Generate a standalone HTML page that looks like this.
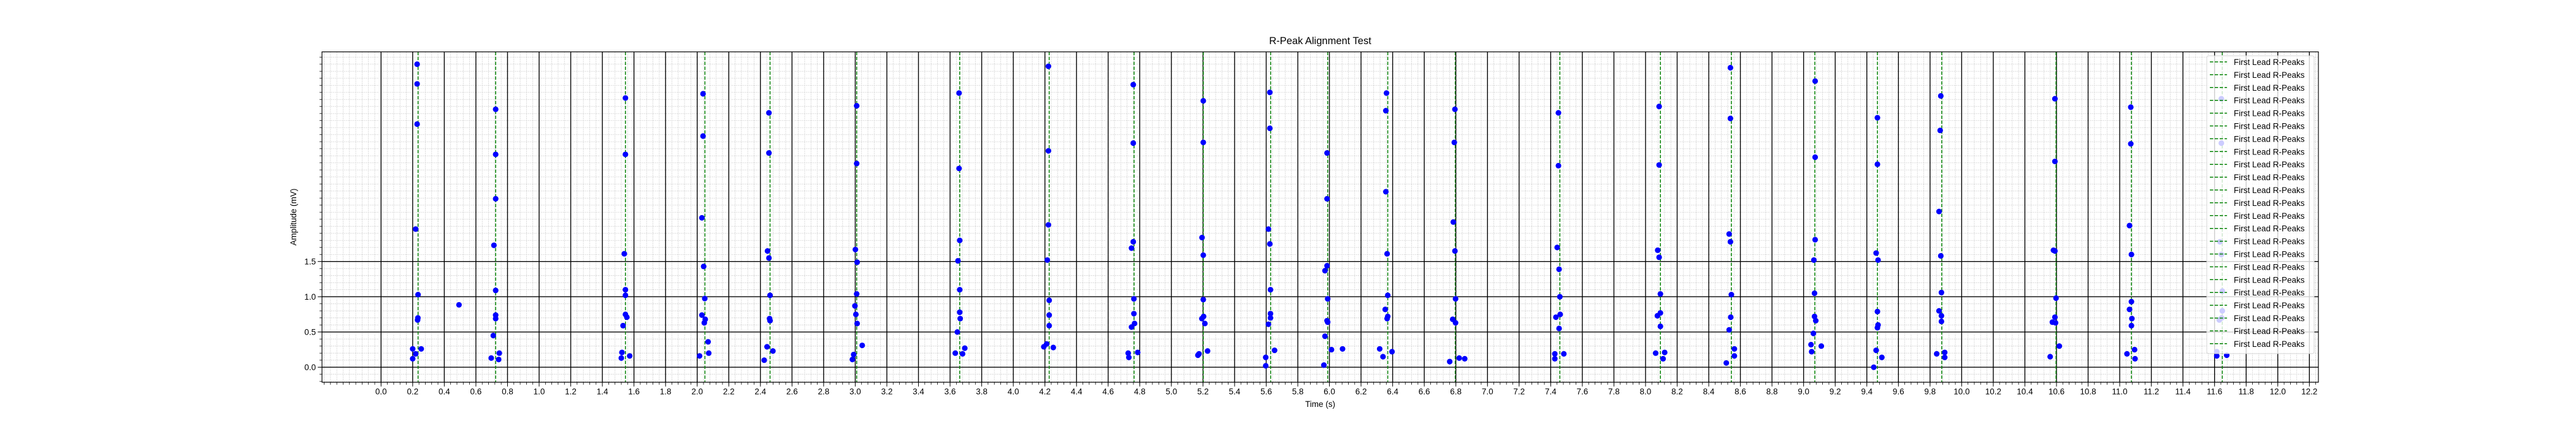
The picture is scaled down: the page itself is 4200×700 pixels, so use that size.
<!DOCTYPE html>
<html><head><meta charset="utf-8"><title>R-Peak Alignment Test</title>
<style>
html,body{margin:0;padding:0;background:#fff;}
svg{display:block;font-family:"Liberation Sans",sans-serif;}
</style></head>
<body>
<svg id="chart" width="4200" height="700" viewBox="0 0 4200 700" xmlns="http://www.w3.org/2000/svg"></svg>
<script>
const peakTimes = [0.234,0.725,1.546,2.049,2.461,3.009,3.661,4.227,4.764,5.202,5.628,5.989,6.369,6.796,7.458,8.094,8.543,9.071,9.467,9.874,10.597,11.074,11.649];
const dotTimes = [
0.228,0.228,0.228,0.219,0.234,0.233,0.231,0.200,0.254,0.219,0.200,0.493,
0.725,0.725,0.725,0.714,0.725,0.725,0.725,0.710,0.748,0.697,0.744,
1.546,1.546,1.539,1.546,1.546,1.546,1.555,1.531,1.524,1.573,1.520,
2.037,2.037,2.030,2.041,2.048,2.030,2.051,2.045,2.069,2.073,2.015,
2.454,2.454,2.445,2.454,2.461,2.458,2.461,2.442,2.479,2.424,
3.009,3.009,3.001,3.012,3.009,2.998,3.004,3.012,3.044,2.990,2.982,
3.657,3.657,3.661,3.650,3.661,3.661,3.664,3.646,3.693,3.633,3.679,
4.222,4.222,4.222,4.215,4.227,4.227,4.227,4.211,4.193,4.253,
4.759,4.759,4.759,4.748,4.763,4.763,4.767,4.748,4.787,4.727,4.731,
5.202,5.202,5.194,5.202,5.202,5.204,5.193,5.212,5.229,5.175,5.168,
5.623,5.623,5.614,5.623,5.627,5.627,5.627,5.614,5.653,5.597,5.597,
5.985,5.985,5.985,5.972,5.989,5.985,5.989,5.972,6.013,5.965,6.083,
6.361,6.357,6.357,6.365,6.369,6.353,6.369,6.365,6.318,6.396,6.339,
6.794,6.790,6.784,6.794,6.798,6.780,6.798,6.821,6.856,6.761,
7.449,7.449,7.441,7.453,7.458,7.460,7.433,7.453,7.483,7.426,7.426,
8.086,8.086,8.077,8.086,8.094,8.094,8.075,8.094,8.121,8.064,8.111,
8.537,8.537,8.529,8.537,8.543,8.539,8.529,8.562,8.562,8.511,
9.073,9.073,9.073,9.065,9.069,9.069,9.077,9.062,9.112,9.047,9.051,
9.467,9.467,9.459,9.471,9.467,9.471,9.467,9.459,9.495,9.444,
9.868,9.864,9.857,9.868,9.872,9.857,9.872,9.872,9.893,9.842,9.893,
10.590,10.590,10.581,10.590,10.597,10.590,10.574,10.594,10.618,10.560,
11.070,11.070,11.062,11.074,11.074,11.062,11.077,11.074,11.094,11.046,11.097,
11.643,11.643,11.634,11.643,11.649,11.649,11.645,11.630,11.614,11.614,11.677];
const dotValues = [
4.30,4.02,3.45,1.96,1.03,0.70,0.67,0.26,0.26,0.19,0.12,0.885,
3.66,3.02,2.39,1.73,1.09,0.74,0.69,0.45,0.20,0.13,0.11,
3.82,3.02,1.61,1.10,1.02,0.75,0.71,0.59,0.21,0.16,0.13,
3.88,3.28,2.12,1.43,0.975,0.74,0.68,0.63,0.36,0.20,0.16,
3.61,3.04,1.65,1.55,1.02,0.69,0.66,0.29,0.23,0.10,
3.71,2.89,1.67,1.49,1.04,0.87,0.75,0.62,0.31,0.18,0.11,
3.89,2.82,1.80,1.51,1.10,0.78,0.69,0.50,0.27,0.20,0.19,
4.27,3.07,2.02,1.52,0.95,0.74,0.59,0.33,0.29,0.28,
4.01,3.18,1.78,1.69,0.97,0.76,0.62,0.57,0.21,0.20,0.14,
3.78,3.19,1.84,1.59,0.96,0.72,0.69,0.62,0.23,0.19,0.17,
3.90,3.39,1.96,1.75,1.10,0.76,0.70,0.61,0.24,0.14,0.02,
3.04,2.39,1.44,1.37,0.97,0.66,0.64,0.44,0.25,0.03,0.26,
3.89,3.64,2.49,1.61,1.02,0.82,0.72,0.69,0.26,0.22,0.15,
3.66,3.19,2.06,1.65,0.97,0.68,0.63,0.13,0.12,0.08,
3.61,2.86,1.70,1.39,1.00,0.75,0.71,0.55,0.19,0.19,0.12,
3.70,2.87,1.66,1.56,1.04,0.77,0.73,0.58,0.21,0.20,0.12,
4.25,3.53,1.89,1.78,1.03,0.71,0.53,0.26,0.16,0.06,
4.06,2.98,1.81,1.52,1.05,0.72,0.66,0.48,0.30,0.32,0.22,
3.54,2.88,1.62,1.52,0.79,0.60,0.56,0.24,0.14,0.00,
3.85,3.36,2.21,1.58,1.06,0.80,0.73,0.65,0.21,0.19,0.14,
3.81,2.92,1.66,1.65,0.98,0.71,0.64,0.63,0.30,0.15,
3.69,3.17,2.01,1.60,0.93,0.82,0.69,0.59,0.25,0.19,0.12,
3.81,3.18,1.78,1.60,1.08,0.80,0.70,0.67,0.22,0.16,0.17];
const xTickLabels = ["0.0","0.2","0.4","0.6","0.8","1.0","1.2","1.4","1.6","1.8","2.0","2.2","2.4","2.6","2.8","3.0","3.2","3.4","3.6","3.8","4.0","4.2","4.4","4.6","4.8","5.0","5.2","5.4","5.6","5.8","6.0","6.2","6.4","6.6","6.8","7.0","7.2","7.4","7.6","7.8","8.0","8.2","8.4","8.6","8.8","9.0","9.2","9.4","9.6","9.8","10.0","10.2","10.4","10.6","10.8","11.0","11.2","11.4","11.6","11.8","12.0","12.2"];
const yTickLabels = ["0.0","0.5","1.0","1.5"];
const legendLabels = Array(23).fill("First Lead R-Peaks");

const L=525,R=3780,T=84.6,B=623.7;
const xMin=-0.3737, xMax=12.257, yMin=-0.213, yMax=4.475;
function X(t){return L+(t-xMin)/(xMax-xMin)*(R-L);}
function Y(v){return B-(v-yMin)/(yMax-yMin)*(B-T);}
const svg=document.getElementById('chart');
const NS='http://www.w3.org/2000/svg';
function mk(tag,attrs,parent){const e=document.createElementNS(NS,tag);for(const k in attrs)e.setAttribute(k,attrs[k]);(parent||svg).appendChild(e);return e;}

const gMinor=mk('g',{});


for(let i=Math.ceil(xMin/0.04);i*0.04<=xMax;i++){const x=X(i*0.04);
 mk('line',{x1:x,x2:x,y1:T,y2:B,stroke:'#c4c4c4','stroke-width':0.8,'stroke-dasharray':'1.5,1.5'},gMinor);
 mk('line',{x1:x,x2:x,y1:B,y2:B+4,stroke:'#000','stroke-width':0.8},gMinor);}
for(let i=Math.ceil(yMin/0.1);i*0.1<=yMax;i++){const y=Y(i*0.1);
 mk('line',{x1:L,x2:R,y1:y,y2:y,stroke:'#c4c4c4','stroke-width':0.8,'stroke-dasharray':'1.5,1.5'},gMinor);
 mk('line',{x1:L-4,x2:L,y1:y,y2:y,stroke:'#000','stroke-width':0.8},gMinor);}

const gMajor=mk('g',{});


xTickLabels.forEach(lab=>{const x=X(parseFloat(lab));
 mk('line',{x1:x,x2:x,y1:T,y2:B,stroke:'#000','stroke-width':1.4},gMajor);
 mk('line',{x1:x,x2:x,y1:B,y2:B+7,stroke:'#000','stroke-width':1},gMajor);
 const t=mk('text',{x:x,y:B+20,'font-size':13.5,'text-anchor':'middle',fill:'#000'},gMajor);t.textContent=lab;
 
 });
yTickLabels.forEach(lab=>{const y=Y(parseFloat(lab));
 mk('line',{x1:L,x2:R,y1:y,y2:y,stroke:'#000','stroke-width':1.4},gMajor);
 mk('line',{x1:L-7,x2:L,y1:y,y2:y,stroke:'#000','stroke-width':1},gMajor);
 const t=mk('text',{x:L-10,y:y+5,'font-size':13.5,'text-anchor':'end',fill:'#000'},gMajor);t.textContent=lab;
 
 });

peakTimes.forEach(pt=>{const x=X(pt);
 const l=mk('line',{x1:x,x2:x,y1:T,y2:B,stroke:'#008000','stroke-width':1.5,'stroke-dasharray':'5.5,2.5'});
 
 });

dotTimes.forEach((t,i)=>{
 const c=mk('circle',{cx:X(t),cy:Y(dotValues[i]),r:4.6,fill:'#0000ff'});
 
 });

const frame=mk('rect',{x:L,y:T,width:R-L,height:B-T,fill:'none',stroke:'#000','stroke-width':1.2});



const title=mk('text',{x:(L+R)/2,y:72,'font-size':16.5,'text-anchor':'middle',fill:'#000'});
title.textContent='R-Peak Alignment Test';


const xl=mk('text',{x:(L+R)/2,y:664,'font-size':13.5,'text-anchor':'middle',fill:'#000'});
xl.textContent='Time (s)';


const yl=mk('text',{x:0,y:0,'font-size':13.5,'text-anchor':'middle',fill:'#000',transform:'translate(483,'+((T+B)/2)+') rotate(-90)'});
yl.textContent='Amplitude (mV)';



const leg=mk('g',{});


mk('rect',{x:3598,y:91,width:175,height:486,rx:3,fill:'rgba(255,255,255,0.8)',stroke:'#d6d6d6','stroke-width':1},leg);
legendLabels.forEach((lab,i)=>{const y=101+i*20.9;
 const ln=mk('line',{x1:3603,x2:3631,y1:y,y2:y,stroke:'#008000','stroke-width':1.5,'stroke-dasharray':'5.5,2.5'},leg);
 
 
 const t=mk('text',{x:3642,y:y+5,'font-size':13.5,fill:'#000'},leg);t.textContent=lab;
 
 });
</script>
</body></html>
